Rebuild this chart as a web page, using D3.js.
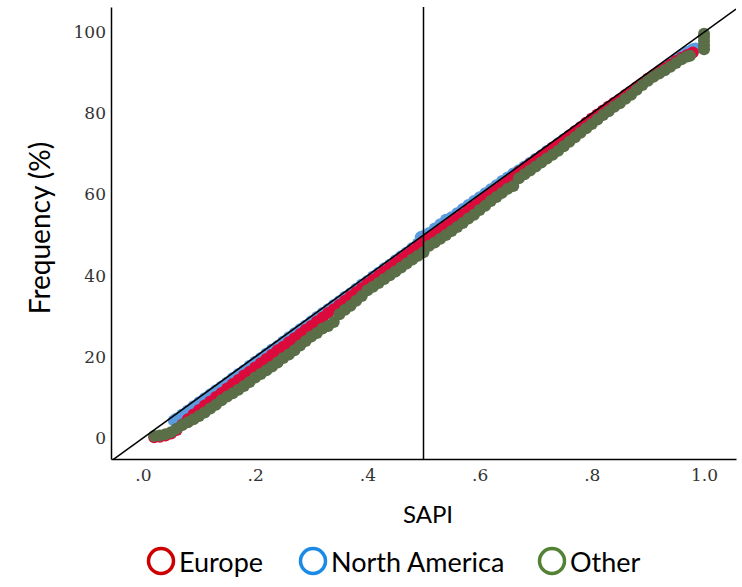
<!DOCTYPE html>
<html><head><meta charset="utf-8">
<script src="https://cdn.jsdelivr.net/npm/d3@7/dist/d3.min.js"></script>
<style>body{margin:0;background:#fff}svg{display:block}</style>
</head><body><div id="chart"></div>
<script>
// ---- data ----
const seriesNames = ["Europe", "North America", "Other"];
const xTicks = [0, 0.2, 0.4, 0.6, 0.8, 1.0];
const xTickLabels = [".0", ".2", ".4", ".6", ".8", "1.0"];
const yTicks = [0, 20, 40, 60, 80, 100];
const yTickLabels = ["0", "20", "40", "60", "80", "100"];

const europeX = [0.02,0.03,0.04,0.05,0.06,0.07,0.08,0.09,0.10,0.11,0.12,0.13,0.14,0.15,0.16,0.17,0.18,0.19,0.20,0.21,0.22,0.23,0.24,0.25,0.26,0.27,0.28,0.29,0.30,0.31,0.32,0.33,0.34,0.35,0.36,0.37,0.38,0.39,0.40,0.41,0.42,0.43,0.44,0.45,0.46,0.47,0.48,0.49,0.50,0.51,0.52,0.53,0.54,0.55,0.56,0.57,0.58,0.59,0.60,0.61,0.62,0.63,0.64,0.65,0.66,0.67,0.68,0.69,0.70,0.71,0.72,0.73,0.74,0.75,0.76,0.77,0.78,0.79,0.80,0.81,0.82,0.83,0.84,0.85,0.86,0.87,0.88,0.89,0.90,0.91,0.92,0.93,0.94,0.95,0.96,0.97,0.98];
const europeY = [0.2,0.3,0.6,1.1,2.0,3.3,4.6,5.8,6.9,8.0,9.0,10.1,11.1,12.2,13.3,14.3,15.4,16.3,17.4,18.4,19.5,20.5,21.6,22.5,23.6,24.6,25.6,26.7,27.6,28.7,29.7,30.8,31.7,32.8,33.8,34.9,35.9,36.9,38.0,39.0,40.0,41.0,42.0,43.1,44.1,45.1,46.1,47.1,48.5,49.3,50.2,51.2,52.2,53.2,54.1,55.1,56.1,57.1,58.2,59.2,60.2,61.2,62.2,63.2,64.1,65.6,66.5,67.5,68.5,69.5,70.5,71.5,72.4,73.4,74.5,75.6,76.6,77.7,78.7,79.7,80.7,81.7,82.6,83.5,84.5,85.4,86.4,87.4,88.5,89.4,90.3,91.2,92.0,92.9,93.7,94.4,95.0];

const naX = [0.055,0.06,0.07,0.08,0.09,0.10,0.11,0.12,0.13,0.14,0.15,0.16,0.17,0.18,0.19,0.20,0.21,0.22,0.23,0.24,0.25,0.26,0.27,0.28,0.29,0.30,0.31,0.32,0.33,0.34,0.35,0.36,0.37,0.38,0.39,0.40,0.41,0.42,0.43,0.44,0.45,0.46,0.47,0.48,0.49,0.495,0.50,0.51,0.52,0.53,0.54,0.55,0.56,0.57,0.58,0.59,0.60,0.61,0.62,0.63,0.64,0.65,0.66,0.67,0.68,0.69,0.70,0.71,0.72,0.73,0.74,0.75,0.76,0.77,0.78,0.79,0.80,0.81,0.82,0.83,0.84,0.85,0.86,0.87,0.88,0.89,0.90,0.91,0.92,0.93,0.94,0.95,0.96,0.97,0.98,0.985];
const naY = [4.3,4.8,5.8,6.8,7.8,8.8,9.8,10.8,11.8,12.7,13.7,14.8,15.8,16.7,17.8,18.8,19.7,20.8,21.8,22.7,23.8,24.8,25.8,26.8,27.7,28.8,29.8,30.8,31.7,32.8,33.7,34.8,35.7,36.8,37.8,38.7,39.8,40.7,41.8,42.7,43.8,44.8,45.7,46.8,47.9,49.5,49.8,50.5,51.6,52.7,53.8,54.4,55.4,56.4,57.4,58.4,59.3,60.3,61.3,62.3,63.3,64.2,65.2,66.0,66.9,67.8,68.8,69.7,70.7,71.6,72.6,73.6,74.6,75.6,76.6,77.6,78.6,79.5,80.6,81.5,82.5,83.4,84.3,85.4,86.3,87.3,88.3,89.4,90.4,91.3,92.3,93.3,94.3,95.1,95.8,96.0];

const otherX = [0.02,0.03,0.04,0.05,0.06,0.07,0.08,0.09,0.10,0.11,0.12,0.13,0.14,0.15,0.16,0.17,0.18,0.19,0.20,0.21,0.22,0.23,0.24,0.25,0.26,0.27,0.28,0.29,0.30,0.31,0.32,0.33,0.34,0.35,0.36,0.37,0.38,0.39,0.40,0.41,0.42,0.43,0.44,0.45,0.46,0.47,0.48,0.49,0.50,0.51,0.52,0.53,0.54,0.55,0.56,0.57,0.58,0.59,0.60,0.61,0.62,0.63,0.64,0.65,0.66,0.67,0.68,0.69,0.70,0.71,0.72,0.73,0.74,0.75,0.76,0.77,0.78,0.79,0.80,0.81,0.82,0.83,0.84,0.85,0.86,0.87,0.88,0.89,0.90,0.91,0.92,0.93,0.94,0.95,0.96,0.97,0.975,1.0,1.0,1.0,1.0,1.0];
const otherY = [0.5,0.6,0.9,1.4,2.3,3.2,3.9,4.6,5.4,6.3,7.3,8.2,9.3,10.2,11.0,11.9,12.8,13.8,14.9,15.8,16.7,17.6,18.6,19.7,20.6,21.6,22.8,23.9,25.0,25.9,27.0,27.6,28.6,30.5,31.6,32.6,33.8,35.0,36.4,37.3,38.2,39.2,40.1,41.0,42.0,43.0,44.0,44.9,45.8,47.4,48.2,49.1,50.0,51.0,52.0,53.0,54.1,55.0,56.2,57.2,58.4,59.4,60.4,61.4,62.1,64.0,65.0,65.9,66.9,67.9,68.9,69.8,70.8,71.9,73.0,74.1,75.2,76.3,77.4,78.5,79.6,80.5,81.6,82.5,83.6,84.6,85.8,87.0,88.0,89.0,89.8,90.6,91.5,92.4,93.3,94.0,94.2,95.8,96.8,97.8,98.8,99.6];

const seriesColors = ["#dc0a3c", "#5b9be0", "#5a6e47"];
const legendColors = ["#cc0000", "#1a8ae6", "#548235"];

// ---- chart ----
const W = 742, H = 587;
const svg = d3.select("#chart").append("svg").attr("width", W).attr("height", H);
const x = d3.scaleLinear().domain([-0.057, 1.057]).range([111, 736]);
const y = d3.scaleLinear().domain([-5.17, 106.2]).range([459, 7]);

svg.append("defs").append("clipPath").attr("id", "clip")
  .append("rect").attr("x", 111).attr("y", 7).attr("width", 625).attr("height", 452);

const plot = svg.append("g").attr("clip-path", "url(#clip)");

const data = [
  {name: seriesNames[1], xs: naX, ys: naY, color: seriesColors[1]},
  {name: seriesNames[0], xs: europeX, ys: europeY, color: seriesColors[0]},
  {name: seriesNames[2], xs: otherX, ys: otherY, color: seriesColors[2]}
];
data.forEach(s => {
  plot.append("g").selectAll("circle").data(s.xs.map((v, i) => [v, s.ys[i]]))
    .join("circle")
    .attr("cx", d => x(d[0])).attr("cy", d => y(d[1]))
    .attr("r", 6).attr("fill", s.color);
});

// reference diagonal and vertical line
const xd = x.domain();
plot.append("line")
  .attr("x1", x(xd[0])).attr("y1", y(100 * xd[0]))
  .attr("x2", x(xd[1])).attr("y2", y(100 * xd[1]))
  .attr("stroke", "#000").attr("stroke-width", 1.5);
svg.append("line")
  .attr("x1", x(0.5)).attr("x2", x(0.5)).attr("y1", 7).attr("y2", 459)
  .attr("stroke", "#000").attr("stroke-width", 1.5);

// axes
const yAxis = d3.axisLeft(y).tickValues(yTicks).tickSize(0).tickPadding(5)
  .tickFormat((d, i) => yTickLabels[i]);
const xAxis = d3.axisBottom(x).tickValues(xTicks).tickSize(0).tickPadding(10)
  .tickFormat((d, i) => xTickLabels[i]);
const gy = svg.append("g").attr("transform", "translate(111,0)").call(yAxis);
const gx = svg.append("g").attr("transform", "translate(0,459)").call(xAxis);
[gx, gy].forEach(g => {
  g.select(".domain").attr("stroke", "#000").attr("stroke-width", 1.5);
  g.selectAll("text").attr("font-family", "DejaVu Serif").attr("font-size", 17).attr("fill", "#333");
});

// axis titles
svg.append("text").attr("x", 428).attr("y", 523).attr("text-anchor", "middle")
  .attr("font-family", "Lato").attr("font-size", 24).attr("fill", "#000").text("SAPI");
svg.append("text").attr("transform", "translate(50,228) rotate(-90)").attr("text-anchor", "middle")
  .attr("font-family", "Lato").attr("font-size", 28).attr("fill", "#000").text("Frequency (%)");

// legend
const legX = [161, 313, 552];
const leg = svg.append("g");
seriesNames.forEach((n, i) => {
  leg.append("circle").attr("cx", legX[i]).attr("cy", 561).attr("r", 12.5)
    .attr("fill", "none").attr("stroke", legendColors[i]).attr("stroke-width", 3.5);
  leg.append("text").attr("x", legX[i] + 18).attr("y", 572)
    .attr("font-family", "Lato").attr("font-size", 27).attr("fill", "#000").text(n);
});
</script></body></html>
